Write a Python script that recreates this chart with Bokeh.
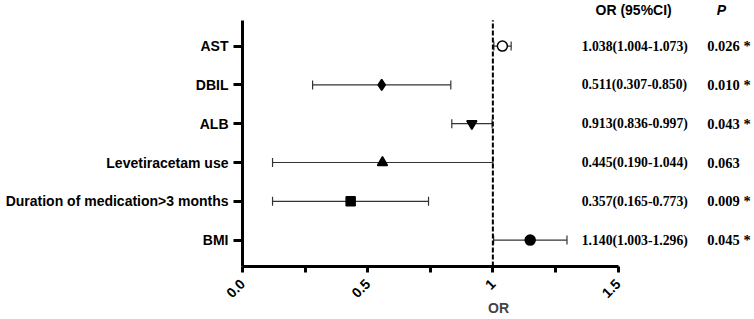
import math
from bokeh.plotting import figure
from bokeh.models import (ColumnDataSource, FixedTicker, Whisker, TeeHead,
                          LabelSet, Label, Range1d)
from bokeh.embed import file_html
from bokeh.resources import INLINE

# ---- data ----
variables = ["AST", "DBIL", "ALB", "Levetiracetam use",
             "Duration of medication>3 months", "BMI"]
or_point = [1.038, 0.556, 0.916, 0.559, 0.432, 1.149]
ci_low = [1.004, 0.280, 0.836, 0.120, 0.120, 1.003]
ci_high = [1.073, 0.832, 0.997, 1.000, 0.743, 1.296]
markers = ["circle", "diamond", "inverted_triangle", "triangle", "square", "circle"]
fills = ["white", "black", "black", "black", "black", "black"]
sizes = [10, 11, 10, 10, 9, 10]
ci_text = ["1.038(1.004-1.073)", "0.511(0.307-0.850)", "0.913(0.836-0.997)",
           "0.445(0.190-1.044)", "0.357(0.165-0.773)", "1.140(1.003-1.296)"]
p_text = ["0.026 *", "0.010 *", "0.043 *", "0.063", "0.009 *", "0.045 *"]
x_ticks = [0, 0.5, 1, 1.5]
x_tick_labels = ["0.0", "0.5", "1", "1.5"]
x_minor = [0.25, 0.75, 1.25]
x_axis_bounds = (0, 1.5)
ref_value = 1

n = len(variables)
ypos = [n - i for i in range(n)]
y_bounds = (0.32, 6.664)

src = ColumnDataSource(dict(y=ypos, orv=or_point, lo=ci_low, hi=ci_high,
                            marker=markers, fill=fills, size=sizes,
                            ci=ci_text, p=p_text))

p = figure(width=754, height=319, output_backend="svg", toolbar_location=None,
           x_range=Range1d(0, 2.045), y_range=Range1d(0.32, 7.175),
           min_border_left=242, min_border_right=0, min_border_top=0,
           min_border_bottom=51)
p.outline_line_color = None
p.xgrid.visible = False
p.ygrid.visible = False

# reference line
p.segment(x0=[ref_value], y0=[y_bounds[0]], x1=[ref_value], y1=[y_bounds[1]],
          line_color="black", line_width=2, line_dash="5 2")

# error bars
wh = Whisker(source=src, base="y", lower="lo", upper="hi", dimension="width",
             line_color="#333333", line_width=1.2,
             lower_head=TeeHead(size=9, line_color="#333333", line_width=1.2),
             upper_head=TeeHead(size=9, line_color="#333333", line_width=1.2))
p.add_layout(wh)

p.scatter(x="orv", y="y", marker="marker", size="size", fill_color="fill",
          line_color="black", line_width=1.5, source=src)

# axes
xa = p.xaxis[0]
xa.ticker = FixedTicker(ticks=x_ticks, minor_ticks=x_minor)
xa.major_label_overrides = {t: l for t, l in zip(x_ticks, x_tick_labels)}
xa.major_label_orientation = math.pi / 4
xa.bounds = x_axis_bounds
xa.axis_label = "OR"
for ax in (p.xaxis[0], p.yaxis[0]):
    ax.axis_line_width = 3
    ax.major_tick_line_width = 3
    ax.minor_tick_line_width = 3
    ax.major_label_text_font = "Liberation Sans"
    ax.major_label_text_font_style = "bold"
    ax.major_label_text_font_size = "14px"
    ax.major_label_text_color = "black"
    ax.axis_label_text_font = "Liberation Sans"
    ax.axis_label_text_font_style = "bold"
    ax.axis_label_text_font_size = "14px"
xa.major_tick_out = 6
xa.major_tick_in = 0
xa.minor_tick_out = 6
xa.minor_tick_in = 0
xa.major_label_standoff = 9
xa.axis_label_standoff = -5

ya = p.yaxis[0]
ya.ticker = FixedTicker(ticks=ypos)
ya.major_label_overrides = {y: v for y, v in zip(ypos, variables)}
ya.bounds = y_bounds
ya.major_tick_out = 9
ya.major_tick_in = 0
ya.minor_tick_line_color = None
ya.major_label_standoff = 5

# text columns
txt = dict(text_baseline="middle", text_color="black")
p.add_layout(LabelSet(x=1.355, y="y", text="ci", source=src, text_align="left",
                      text_font="Liberation Serif", text_font_style="bold",
                      text_font_size="13.7px", **txt))
p.add_layout(LabelSet(x=1.856, y="y", text="p", source=src, text_align="left",
                      text_font="Liberation Serif", text_font_style="bold",
                      text_font_size="14.5px", **txt))
p.add_layout(Label(x=1.41, y=6.92, text="OR  (95%CI)", text_align="left",
                   text_font="Liberation Sans", text_font_style="bold",
                   text_font_size="14px", **txt))
p.add_layout(Label(x=1.913, y=6.92, text="P", text_align="center",
                   text_font="Liberation Sans", text_font_style="bold italic",
                   text_font_size="14px", **txt))

open("out.html", "w").write(file_html(p, INLINE))
